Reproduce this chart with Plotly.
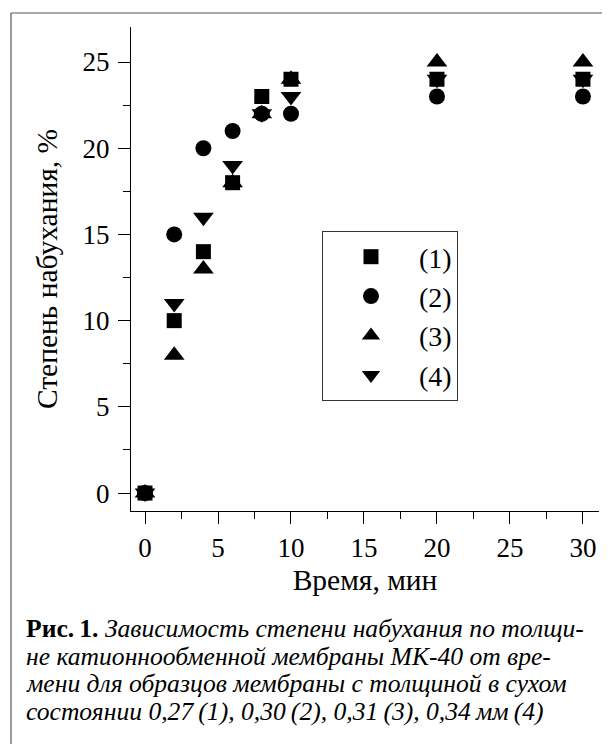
import plotly.graph_objects as go

time_min = [0, 2, 4, 6, 8, 10, 20, 30]
series_names = ["(1)", "(2)", "(3)", "(4)"]
s1 = [0, 10, 14, 18, 23, 24, 24, 24]
s2 = [0, 15, 20, 21, 22, 22, 23, 23]
s3 = [0, 8, 13, 18, 22, 24, 25, 25]
s4 = [0, 11, 16, 19, 22, 23, 24, 24]
series_values = [s1, s2, s3, s4]
symbols = ["square", "circle", "triangle-up", "triangle-down"]
sizes = [15, 16, 18, 18]

x_ticks = [0, 5, 10, 15, 20, 25, 30]
y_ticks = [0, 5, 10, 15, 20, 25]

caption_lines = [
    "<b>Рис.\u20091.</b> <i>Зависимость степени набухания по толщи-</i>",
    "<i>не катионнообменной мембраны МК-40 от вре-</i>",
    "<i>мени для образцов мембраны с толщиной в сухом</i>",
    "<i>состоянии 0,27\u2009(1), 0,30\u2009(2), 0,31\u2009(3), 0,34\u2009мм\u2009(4)</i>",
]

FONT = "'Liberation Serif', 'Times New Roman', 'DejaVu Serif', serif"
OFF = 8  # page body margin

W, H = 602, 736
# plot area in page pixels
PL, PR, PT, PB = 131, 599, 27, 511
L = PL - OFF
R = W - (PR - OFF)
T = PT - OFF
B = H - (PB - OFF)
pw = W - L - R
ph = H - T - B

def px_x(p):
    return (p - OFF - L) / pw

def px_y(p):
    return (H - B - (p - OFF)) / ph

fig = go.Figure()
for i, (name, vals) in enumerate(zip(series_names, series_values)):
    fig.add_trace(go.Scatter(
        x=time_min, y=vals, mode="markers", name=name,
        marker=dict(symbol=symbols[i], size=sizes[i], color="black",
                    line=dict(width=0)),
    ))

axis_common = dict(
    showline=True, linecolor="black", linewidth=1.3,
    ticks="outside", ticklen=12, tickwidth=1.3, tickcolor="black",
    showgrid=False, zeroline=False, mirror=False, automargin=False,
    tickfont=dict(family=FONT, size=27, color="black"),
    minor=dict(ticks="outside", ticklen=7, tickwidth=1.3, tickcolor="black",
               dtick=2.5, showgrid=False),
)

fig.update_layout(
    width=W, height=H,
    margin=dict(l=L, r=R, t=T, b=B),
    paper_bgcolor="white", plot_bgcolor="white",
    font=dict(family=FONT, size=27, color="black"),
    xaxis=dict(range=[-0.96, 31.1], tickvals=x_ticks,
               title=dict(text="Время, мин", font=dict(family=FONT, size=29.5), standoff=7),
               **axis_common),
    yaxis=dict(range=[-1.04, 27.03], tickvals=y_ticks, ticklabelstandoff=3,
               title=dict(text="Степень набухания, %", font=dict(family=FONT, size=29.5), standoff=16),
               **axis_common),
    legend=dict(
        x=px_x(322), y=px_y(231), xanchor="left", yanchor="top",
        bordercolor="#333", borderwidth=1, bgcolor="white",
        font=dict(family=FONT, size=28, color="black"),
        itemwidth=86,
    ),
    showlegend=True,
)

# outer frame (top and left edges visible)
fig.add_shape(type="line", xref="paper", yref="paper",
              x0=px_x(11), x1=px_x(620), y0=px_y(13), y1=px_y(13),
              line=dict(color="#555", width=1.2))
fig.add_shape(type="line", xref="paper", yref="paper",
              x0=px_x(11), x1=px_x(11), y0=px_y(13), y1=px_y(760),
              line=dict(color="#555", width=1.2))

line_centers = [628, 656, 684, 711]
for txt, yc in zip(caption_lines, line_centers):
    fig.add_annotation(xref="paper", yref="paper", x=px_x(24), y=px_y(yc),
                       xanchor="left", yanchor="middle", align="left", showarrow=False,
                       text=txt, font=dict(family=FONT, size=25.6, color="black"))

fig.write_html("out.html")
